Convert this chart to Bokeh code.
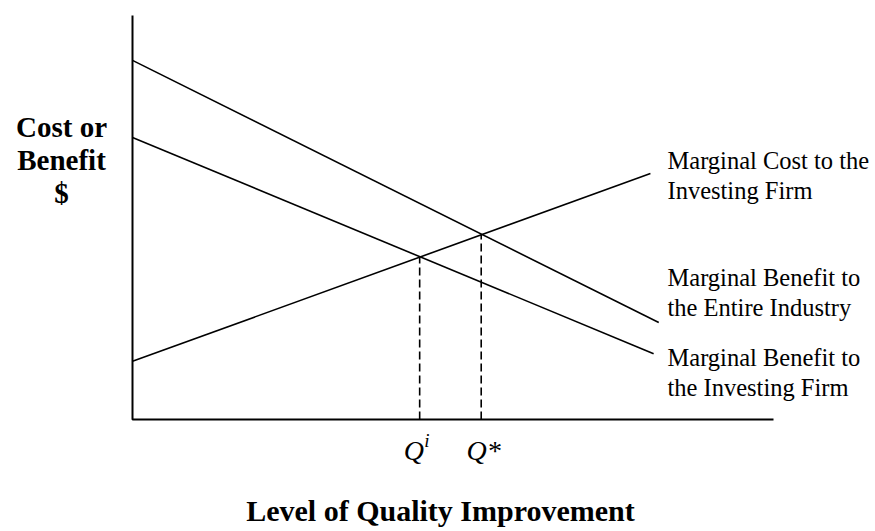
from bokeh.plotting import figure
from bokeh.models import Range1d, Label
from bokeh.embed import file_html
from bokeh.resources import INLINE

# ---- data (quantity units, dollar units) ----
axis_q = [0, 0, 10]
axis_v = [10, 0, 0]
mc_q = [0.0, 8.08]
mc_v = [1.44, 6.09]
mbf_q = [0.0, 8.13]
mbf_v = [6.98, 1.63]
mbi_q = [0.0, 8.21]
mbi_v = [8.89, 2.40]
q_i, q_i_v = 4.48, 4.01
q_star, q_star_v = 5.44, 4.58

ylabel_lines = ["Cost or", "Benefit", "$"]
xlabel = "Level of Quality Improvement"
mc_label = ["Marginal Cost to the", "Investing Firm"]
mbi_label = ["Marginal Benefit to", "the Entire Industry"]
mbf_label = ["Marginal Benefit to", "the Investing Firm"]

W, H = 875, 531
ox, oy = 132.0, 419.0   # origin in canvas px
sx, sy = 64.1, 40.4     # px per unit

def X(px):
    return (px - ox) / sx

def Y(py):
    return (oy - py) / sy

p = figure(width=W, height=H, output_backend="svg", toolbar_location=None,
           x_range=Range1d(X(0), X(W)), y_range=Range1d(Y(H), Y(0)),
           min_border=0, min_border_left=0, min_border_right=0,
           min_border_top=0, min_border_bottom=0)
p.axis.visible = False
p.grid.visible = False
p.outline_line_color = None
p.background_fill_color = "white"
p.border_fill_color = "white"

p.line(axis_q, axis_v, line_color="black", line_width=2)
p.line(mc_q, mc_v, line_color="black", line_width=1.6)
p.line(mbf_q, mbf_v, line_color="black", line_width=1.6)
p.line(mbi_q, mbi_v, line_color="black", line_width=1.6)
p.line([q_i, q_i], [0, q_i_v], line_color="black", line_width=1.6, line_dash="8 4")
p.line([q_star, q_star], [0, q_star_v], line_color="black", line_width=1.6, line_dash="8 4")

SERIF = "Liberation Serif"

def lab(x, py, text, size, style="normal", align="left"):
    # py: desired baseline in canvas px; compensate renderer's baseline offset
    shift = 0.42 * size
    p.add_layout(Label(x=x, y=Y(py - shift), text=text, text_font=SERIF,
                       text_font_size=f"{size}px", text_font_style=style,
                       text_align=align, text_baseline="alphabetic",
                       text_color="black"))

# y-axis label
for i, t in enumerate(ylabel_lines):
    lab(X(61), 139 + 33 * i, t, 29, "bold", "center")

# x-axis label
lab(X(440), 523, xlabel, 30, "bold", "center")

# Q labels
lab(q_i - 0.25, 462, "Q", 28, "italic", "left")
lab(q_i + 0.07, 448, "i", 19, "italic", "left")
lab(q_star - 0.23, 462, "Q*", 28, "italic", "left")

# curve labels
tx = X(667)
for i, t in enumerate(mc_label):
    lab(tx, 170 + 30 * i, t, 24.5)
for i, t in enumerate(mbi_label):
    lab(tx, 287 + 30 * i, t, 24.5)
for i, t in enumerate(mbf_label):
    lab(tx, 367 + 30 * i, t, 24.5)

open("out.html", "w").write(file_html(p, INLINE))
